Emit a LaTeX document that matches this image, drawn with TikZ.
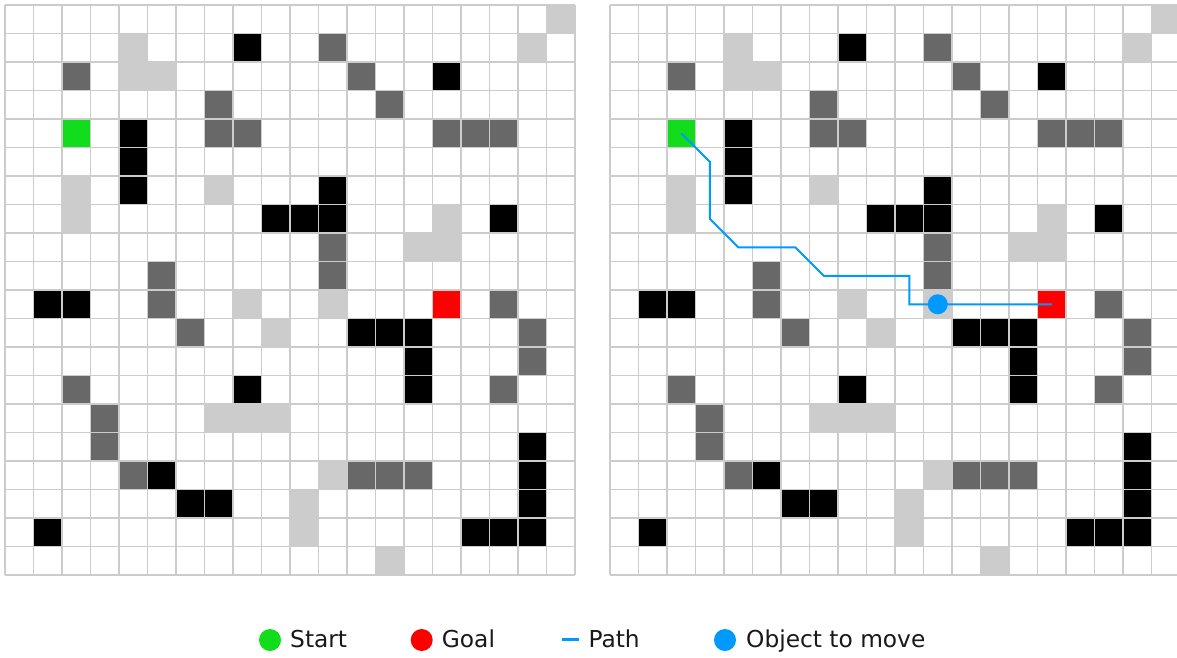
\documentclass[tikz,border=0pt]{standalone}
\usepackage{fontspec}
\setmainfont{DejaVu Sans}
\definecolor{lg}{HTML}{CCCCCC}
\definecolor{dg}{HTML}{686868}
\definecolor{startg}{RGB}{17,221,29}
\definecolor{goalr}{HTML}{FF0000}
\definecolor{pathb}{RGB}{0,153,255}
\tikzset{
  gridline/.style={draw=lg, line width=1.5pt},
  pathline/.style={draw=pathb, line width=2pt},
  legtext/.style={anchor=base west, inner sep=0pt, font=\fontsize{23.3}{28}\selectfont, text=black!90},
  legdot/.style={circle, inner sep=0pt, minimum size=22pt},
}
\begin{document}
\begin{tikzpicture}[x=1pt,y=-1pt]
\clip (0,0) rectangle (1177,657);
\fill[white] (0,0) rectangle (1177,657);
\foreach \ox in {5,610}{
  \begin{scope}[shift={(\ox pt,-5pt)}, x=28.5pt, y=-28.5pt]
    \foreach \c/\r in {19/0,4/1,18/1,4/2,5/2,2/6,7/6,2/7,15/7,14/8,15/8,8/10,11/10,9/11,7/14,8/14,9/14,11/16,10/17,10/18,13/19}
      \fill[lg] (\c,\r) rectangle ++(1,1);
    \foreach \c/\r in {11/1,2/2,12/2,7/3,13/3,7/4,8/4,15/4,16/4,17/4,11/8,11/9,5/9,5/10,17/10,6/11,18/11,18/12,2/13,17/13,3/14,3/15,4/16,12/16,13/16,14/16}
      \fill[dg] (\c,\r) rectangle ++(1,1);
    \foreach \c/\r in {8/1,15/2,4/4,4/5,4/6,11/6,9/7,10/7,11/7,17/7,1/10,2/10,12/11,13/11,14/11,14/12,14/13,8/13,18/15,18/16,18/17,5/16,6/17,7/17,1/18,16/18,17/18,18/18}
      \fill[black] (\c,\r) rectangle ++(1,1);
    \fill[startg] (2,4) rectangle ++(1,1);
    \fill[goalr] (15,10) rectangle ++(1,1);
    \foreach \i in {0,...,20}{
      \draw[gridline] (\i,0) -- (\i,20);
      \draw[gridline] (0,\i) -- (20,\i);
    }
  \end{scope}
}
\begin{scope}[shift={(610pt,-5pt)}, x=28.5pt, y=-28.5pt]
  \coordinate (s) at (2.5,4.5);
  \coordinate (g) at (15.5,10.5);
  \draw[pathline] (s) -- (3.5,5.5) -- (3.5,7.5) -- (4.5,8.5) -- (6.5,8.5) -- (7.5,9.5) -- (10.5,9.5) -- (10.5,10.5) -- (g);
  \node[circle, fill=pathb, inner sep=0pt, minimum size=20pt] (obj) at (11.5,10.5) {};
\end{scope}
% legend
\node[legdot, fill=startg] (l1) at (270,640) {};
\node[legtext] (t1) at (290,647.7) {Start};
\node[legdot, fill=goalr] (l2) at (421.7,640) {};
\node[legtext] (t2) at (441.7,647.7) {Goal};
\coordinate (l3a) at (561.7,639.5);
\coordinate (l3b) at (579.3,639.5);
\draw[draw=pathb, line width=2.6pt] (l3a) -- (l3b);
\node[legtext] (t3) at (588.3,647.7) {Path};
\node[legdot, fill=pathb] (l4) at (725,640) {};
\node[legtext] (t4) at (746,647.7) {Object to move};
\end{tikzpicture}
\end{document}
